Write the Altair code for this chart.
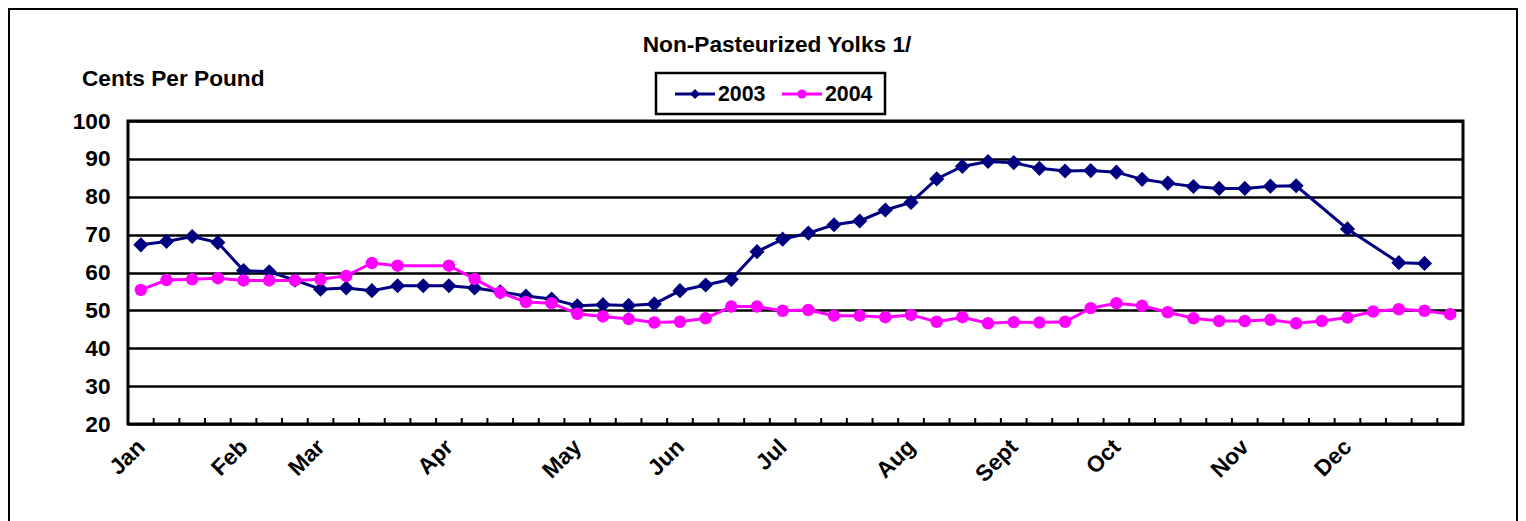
import altair as alt
import pandas as pd

chart_title = "Non-Pasteurized Yolks 1/"
y_title = "Cents Per Pound"
series = ["2003", "2004"]
colors = ["#000080", "#FF00FF"]
shapes = ["diamond", "circle"]
month_labels = ["Jan", "Feb", "Mar", "Apr", "May", "Jun", "Jul", "Aug", "Sept", "Oct", "Nov", "Dec"]
month_weeks = [0, 4, 7, 12, 17, 21, 25, 30, 34, 38, 43, 47]
weeks = list(range(52))
y_ticks = [20, 30, 40, 50, 60, 70, 80, 90, 100]

v2003 = [67.3, 68.2, 69.5, 67.9, 60.5, 60.2, 58.0, 55.6, 55.9, 55.2,
         56.5, 56.5, 56.5, 55.9, 54.9, 53.8, 53.0, 51.2, 51.5, 51.3,
         51.7, 55.2, 56.7, 58.2, 65.5, 68.8, 70.4, 72.6, 73.6, 76.5,
         78.5, 84.7, 88.0, 89.3, 89.0, 87.5, 86.8, 86.9, 86.5, 84.6,
         83.6, 82.7, 82.2, 82.2, 82.8, 82.9, None, 71.5, None, 62.6,
         62.4, None]
v2004 = [55.4, 58.0, 58.2, 58.5, 57.9, 57.9, 57.9, 58.2, 59.1, 62.5,
         61.8, None, 61.8, 58.3, 54.7, 52.2, 51.9, 49.1, 48.4, 47.7,
         46.8, 47.0, 47.9, 51.0, 51.0, 49.9, 50.1, 48.6, 48.6, 48.2,
         48.8, 47.0, 48.2, 46.6, 46.9, 46.8, 47.0, 50.6, 51.9, 51.2,
         49.5, 47.9, 47.2, 47.2, 47.5, 46.6, 47.2, 48.1, 49.7, 50.3,
         49.9, 49.0]

FONT = "Liberation Sans"
W, H = 1335, 303

rows = []
for s, vals in zip(series, [v2003, v2004]):
    for w, v in zip(weeks, vals):
        if v is not None:
            rows.append({"week": w, "series": s, "value": v})
df = pd.DataFrame(rows)
df["xpos"] = df["week"] + 0.5

tick_df = pd.DataFrame({"xpos": weeks[1:]})

label_vals = [w + 0.5 for w in month_weeks]
label_expr = ("[" + ",".join(f"'{m}'" for m in month_labels) + "][indexof(["
              + ",".join(str(v) for v in label_vals) + "], datum.value)]")

x_axis = alt.Axis(values=label_vals, labelExpr=label_expr, labelAngle=-45,
                  labelAlign="right", labelBaseline="middle", ticks=False,
                  domain=False, grid=False, title=None, labelFontSize=22.67,
                  labelPadding=19, labelOverlap=False, labelFlush=False)
x_scale = alt.Scale(domain=[0, 52], nice=False, zero=False)
y_axis = alt.Axis(values=y_ticks, grid=True, gridColor="black", gridWidth=2.5,
                  gridOpacity=1, ticks=False, domain=False, labelPadding=18,
                  title=None, labelFontSize=22.67)
y_scale = alt.Scale(domain=[20, 100], nice=False, zero=False)

X = alt.X("xpos:Q", scale=x_scale, axis=x_axis)
Y = alt.Y("value:Q", scale=y_scale, axis=y_axis)

base = alt.Chart(df)
layers = []

one = alt.Data(values=[{"k": 0}])

# outer frame
layers.append(alt.Chart(one).mark_rect(fill="white", fillOpacity=0, stroke="black", strokeWidth=2).encode(
    x=alt.value(-119), x2=alt.value(1389), y=alt.value(-112), y2=alt.value(430)))

# inner tick marks
layers.append(alt.Chart(tick_df).mark_rule(color="black", strokeWidth=2).encode(
    x=X, y=alt.value(H), y2=alt.value(H - 6)))

for s, c, sh in zip(series, colors, shapes):
    sub = base.transform_filter(alt.datum.series == s)
    layers.append(sub.mark_line(color=c, strokeWidth=3).encode(x=X, y=Y))
    layers.append(sub.mark_point(color=c, filled=True, opacity=1, shape=sh,
                                 size=230 if sh == "diamond" else 155).encode(x=X, y=Y))

# legend
layers.append(alt.Chart(one).mark_rect(fill="white", stroke="black", strokeWidth=2.5).encode(
    x=alt.value(528), x2=alt.value(757), y=alt.value(-48), y2=alt.value(-7)))
leg_x = [547, 654]
for s, c, sh, lx in zip(series, colors, shapes, leg_x):
    layers.append(alt.Chart(one).mark_rule(color=c, strokeWidth=3).encode(
        x=alt.value(lx), x2=alt.value(lx + 40), y=alt.value(-27)))
    layers.append(alt.Chart(one).mark_point(color=c, filled=True, opacity=1, shape=sh,
                                            size=100 if sh == "diamond" else 85).encode(
        x=alt.value(lx + 20), y=alt.value(-27)))
    layers.append(alt.Chart(one).mark_text(font=FONT, fontWeight="bold", fontSize=21.3,
                                           align="left", baseline="middle", color="black").encode(
        x=alt.value(lx + 43), y=alt.value(-26), text=alt.value(s)))

# titles
layers.append(alt.Chart(one).mark_text(font=FONT, fontWeight="bold", fontSize=22.67,
                                       align="center", baseline="alphabetic", color="black").encode(
    x=alt.value(649), y=alt.value(-69), text=alt.value(chart_title)))
layers.append(alt.Chart(one).mark_text(font=FONT, fontWeight="bold", fontSize=22.67,
                                       align="left", baseline="alphabetic", color="black").encode(
    x=alt.value(-46), y=alt.value(-35), text=alt.value(y_title)))

chart = alt.layer(*layers).properties(
    width=W, height=H,
    autosize=alt.AutoSizeParams(type="none"),
    padding={"left": 120, "top": 113, "right": 55, "bottom": 97},
    background="white",
).configure_view(stroke="black", strokeWidth=3).configure_axis(
    labelFont=FONT, labelFontWeight="bold", labelColor="black")

chart.save("out.html", embed_options={"renderer": "svg", "actions": False})
